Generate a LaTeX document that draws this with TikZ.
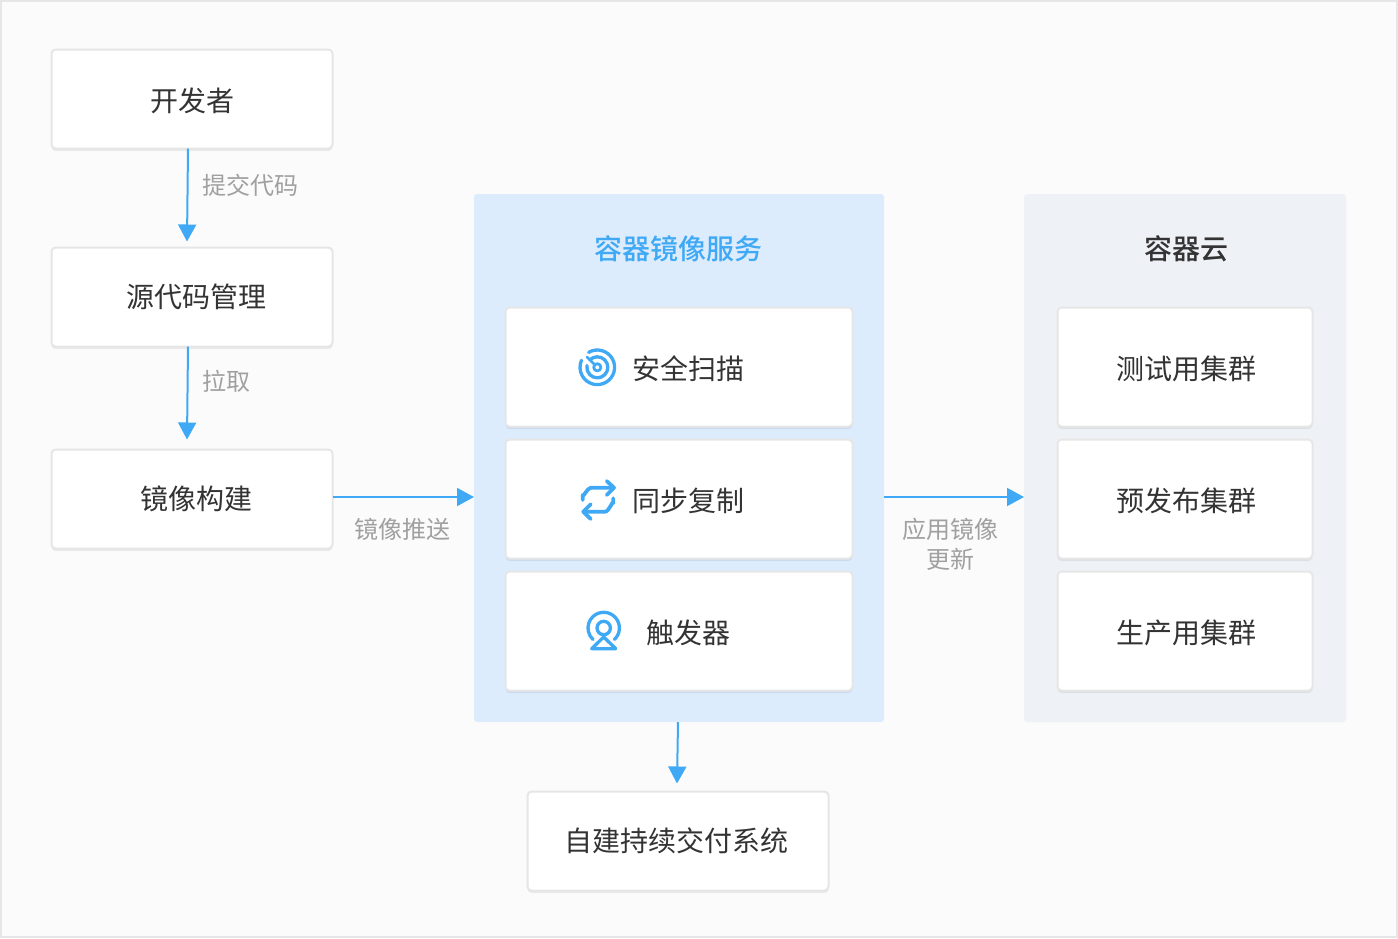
\documentclass[tikz,border=0pt]{standalone}
\usepackage{fontspec}
\setmainfont{Noto Sans CJK SC}
\newfontfamily\titlefont[UprightFont=* Medium]{Noto Sans CJK SC}
\usetikzlibrary{arrows.meta,shadows}
\tikzset{>={Triangle[length=17pt,width=18pt]}}
\definecolor{myblue}{HTML}{3FA9F5}
\definecolor{mytext}{HTML}{333333}
\definecolor{mygrey}{HTML}{A0A0A0}
\definecolor{myline}{HTML}{E6E6E6}
\tikzset{
    boxnode/.style={draw=myline,line width=2pt,fill=white,rounded corners=4pt,inner sep=0pt,outer sep=0pt,
        drop shadow={opacity=0.07,shadow xshift=0pt,shadow yshift=-2.5pt,fill=black}},
    boxtext/.style={text=mytext,font=\fontsize{28}{34}\selectfont,inner sep=0pt},
    areanode/.style={rounded corners=3pt,inner sep=0pt,outer sep=0pt},
    flowarrow/.style={->,myblue,line width=2pt},
    arrowlabel/.style={text=mygrey,font=\fontsize{24}{30}\selectfont,align=center,inner sep=0pt},
    titlelabel/.style={font=\fontsize{28}{34}\selectfont\titlefont,inner sep=0pt},
    iconline/.style={myblue,line width=3.3pt,line cap=round,line join=round},
}
\begin{document}
\begin{tikzpicture}[x=1pt,y=-1pt]
    \useasboundingbox (0,0) rectangle (1398,938);
    \draw[draw=myline,line width=2pt,fill={rgb,255:red,251;green,251;blue,251}] (1,1) rectangle (1397,937);

    % left column
    \node[boxnode,minimum width=281pt,minimum height=99pt] (dev) at (192,99) {};
    \node[boxnode,minimum width=281pt,minimum height=99pt] (repo) at (192,297) {};
    \node[boxnode,minimum width=281pt,minimum height=99pt] (build) at (192,499) {};
    \node[boxtext] (devtext) at (192,101) {开发者};
    \node[boxtext] (repotext) at (196.5,296.5) {源代码管理};
    \node[boxtext] (buildtext) at (196.5,498.5) {镜像构建};

    % the two areas
    \node[areanode,fill={rgb,255:red,220;green,236;blue,253},minimum width=410pt,minimum height=528pt] (registry) at (679,458) {};
    \node[areanode,fill={rgb,255:red,238;green,242;blue,246},minimum width=322pt,minimum height=528pt] (cloud) at (1185,458) {};
    \node[titlelabel,text=myblue] (registrytitle) at (678,249) {容器镜像服务};
    \node[titlelabel,text=mytext] (cloudtitle) at (1186,249) {容器云};

    \foreach \name/\y/\txt in {scan/367/安全扫描,sync/499/同步复制,hook/631/触发器}{
        \node[boxnode,minimum width=347pt,minimum height=119pt] (\name) at (679,\y) {};
        \node[boxtext] (\name text) at (688,\y+1.5) {\txt};
    }
    \foreach \name/\y/\txt in {test/367/测试用集群,staging/499/预发布集群,prod/631/生产用集群}{
        \node[boxnode,minimum width=255pt,minimum height=119pt] (\name) at (1185,\y) {};
        \node[boxtext] (\name text) at (1186,\y+1.5) {\txt};
    }
    \node[boxnode,minimum width=301pt,minimum height=99pt] (cicd) at (678,841) {};
    \node[boxtext] (cicdtext) at (676.5,840.5) {自建持续交付系统};

    % connectors
    \draw[flowarrow] ([xshift=-4pt]dev.south) -- ([xshift=-5pt,yshift=6pt]repo.north);
    \draw[flowarrow] ([xshift=-4pt]repo.south) -- ([xshift=-5pt,yshift=10pt]build.north);
    \draw[flowarrow] ([yshift=2pt]build.east) -- ([yshift=-39pt]registry.west);
    \draw[flowarrow] ([yshift=-39pt]registry.east) -- ([yshift=-39pt]cloud.west);
    \draw[flowarrow] ([xshift=-1pt]registry.south) -- ([xshift=-1pt,yshift=8pt]cicd.north);

    \node[arrowlabel] (commitlabel) at (250,185.5) {提交代码};
    \node[arrowlabel] (pulllabel) at (226,381.5) {拉取};
    \node[arrowlabel] (pushlabel) at (402,529.5) {镜像推送};
    \node[arrowlabel] (updatelabel) at (950,544.5) {应用镜像\\更新};

    % icons
    \begin{scope}[shift={(597.3,367.3)}]
        \draw[iconline] (120:17.3pt) arc[start angle=120,end angle=-204,radius=17.3pt];
        \draw[iconline] (135:10.5pt) arc[start angle=135,end angle=-190,radius=10.5pt];
        \draw[iconline,line width=2.8pt] (0,0) circle[radius=3.6pt];
        \draw[iconline,line width=2.8pt] (135:3.6pt) -- (135:14.5pt);
    \end{scope}
    \begin{scope}[iconline,line width=3.8pt]
        \draw (582.7,500) -- (582.7,495) to[out=-90,in=180,looseness=0.9] (591,487.7) -- (613.3,487.7);
        \draw (606.7,481) -- (614,487.7) -- (606.7,495);
        \draw (613.3,498.3) -- (613.3,503) to[out=90,in=0,looseness=0.9] (605,511.7) -- (584,511.7);
        \draw (590.7,504.3) -- (583.3,511.7) -- (590.7,519);
    \end{scope}
    \draw[iconline] (603.7,628) ++(-47:15.7pt) arc[start angle=-47,end angle=227,radius=15.7pt];
    \draw[iconline] (603.7,628) circle[radius=6.7pt];
    \draw[iconline,fill=white] (603.7,637) -- (615.7,648.7) -- (591.7,648.7) -- cycle;
\end{tikzpicture}
\end{document}
